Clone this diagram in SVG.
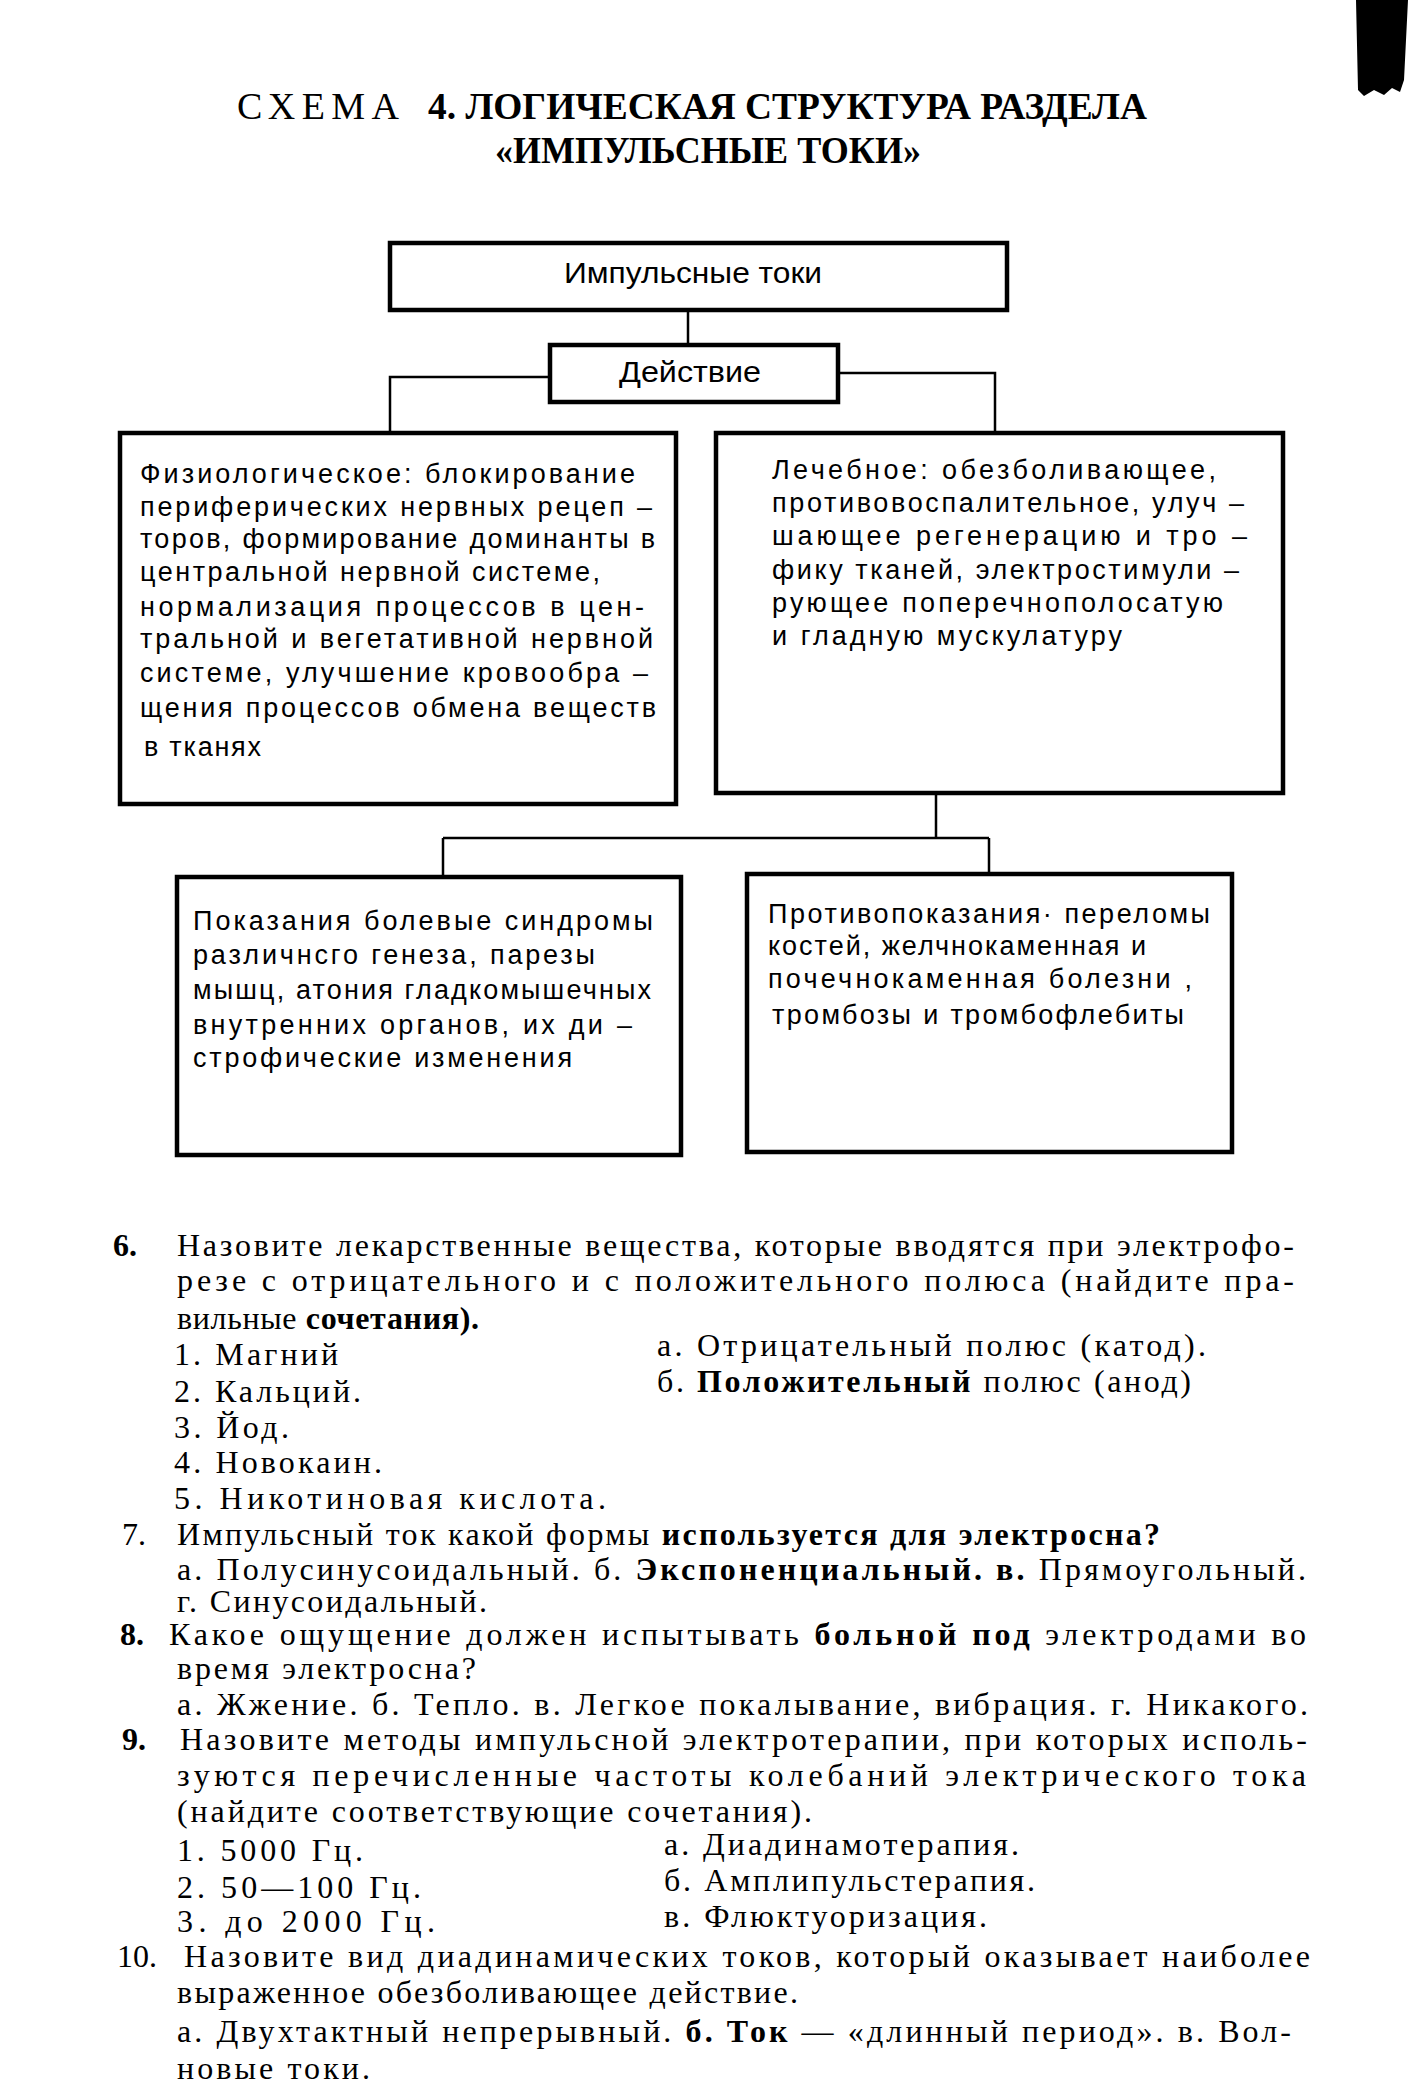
<svg xmlns="http://www.w3.org/2000/svg" width="1420" height="2086" viewBox="0 0 1420 2086">
<style>
.box{fill:#fff;stroke:#000;stroke-width:4.5}
.conn{fill:none;stroke:#000;stroke-width:2.5}
.bt{font-family:"Liberation Sans",Arial,sans-serif;font-size:27px;fill:#000}
.hd{font-family:"Liberation Sans",Arial,sans-serif;font-size:29px;fill:#000}
.q{font-family:"Liberation Serif","Times New Roman",serif;font-size:32px;fill:#000}
.b{font-weight:bold}
.t{font-family:"Liberation Serif","Times New Roman",serif;font-size:38px;fill:#000}
</style>
<rect width="1420" height="2086" fill="#fff"/>
<path d="M1356 0 L1408 0 L1406 40 L1404 80 L1400 92 L1392 88 L1384 95 L1374 90 L1364 96 L1358 90 Z" fill="#000"/>
<g id="title">
<text class="t" x="237" y="119" textLength="162" lengthAdjust="spacing">СХЕМА</text>
<text class="t b" x="428" y="119" textLength="719" lengthAdjust="spacingAndGlyphs">4. ЛОГИЧЕСКАЯ СТРУКТУРА РАЗДЕЛА</text>
<text class="t b" x="495" y="163" textLength="426" lengthAdjust="spacingAndGlyphs">«ИМПУЛЬСНЫЕ ТОКИ»</text>
</g>
<g id="connectors">
<path class="conn" d="M688 310 V344"/>
<path class="conn" d="M550 377 H390 V433"/>
<path class="conn" d="M838 373 H995 V433"/>
<path class="conn" d="M936 793 V838 M443 838 H989 M443 838 V877 M989 838 V874"/>
</g>
<g id="n-impulse">
<rect class="box" x="390" y="243" width="617" height="67"/>
<text class="hd" x="564" y="283" textLength="258" lengthAdjust="spacingAndGlyphs">Импульсные токи</text>
</g>
<g id="n-action">
<rect class="box" x="550" y="345" width="288" height="57"/>
<text class="hd" x="619" y="382" textLength="142" lengthAdjust="spacingAndGlyphs">Действие</text>
</g>
<g id="n-physio">
<rect class="box" x="120" y="433" width="556" height="371"/>
<text class="bt" x="140" y="483" textLength="495" lengthAdjust="spacing">Физиологическое: блокирование</text>
<text class="bt" x="140" y="516" textLength="512" lengthAdjust="spacing">периферических нервных рецеп –</text>
<text class="bt" x="140" y="548" textLength="515" lengthAdjust="spacing">торов, формирование доминанты в</text>
<text class="bt" x="140" y="581" textLength="460" lengthAdjust="spacing">центральной нервной системе,</text>
<text class="bt" x="140" y="616" textLength="504" lengthAdjust="spacing">нормализация процессов в цен-</text>
<text class="bt" x="140" y="648" textLength="513" lengthAdjust="spacing">тральной и вегетативной нервной</text>
<text class="bt" x="140" y="682" textLength="508" lengthAdjust="spacing">системе, улучшение кровообра –</text>
<text class="bt" x="140" y="717" textLength="516" lengthAdjust="spacing">щения процессов обмена веществ</text>
<text class="bt" x="144" y="756" textLength="117" lengthAdjust="spacing">в тканях</text>
</g>
<g id="n-treat">
<rect class="box" x="716" y="433" width="567" height="360"/>
<text class="bt" x="772" y="479" textLength="444" lengthAdjust="spacing">Лечебное: обезболивающее,</text>
<text class="bt" x="772" y="512" textLength="472" lengthAdjust="spacing">противовоспалительное, улуч –</text>
<text class="bt" x="772" y="545" textLength="475" lengthAdjust="spacing">шающее  регенерацию и тро –</text>
<text class="bt" x="772" y="579" textLength="467" lengthAdjust="spacing">фику тканей, электростимули –</text>
<text class="bt" x="772" y="612" textLength="451" lengthAdjust="spacing">рующее поперечнополосатую</text>
<text class="bt" x="772" y="645" textLength="350" lengthAdjust="spacing">и гладную мускулатуру</text>
</g>
<g id="n-indic">
<rect class="box" x="177" y="877" width="504" height="278"/>
<text class="bt" x="193" y="930" textLength="460" lengthAdjust="spacing">Показания  болевые синдромы</text>
<text class="bt" x="193" y="964" textLength="402" lengthAdjust="spacing">различнсго генеза, парезы</text>
<text class="bt" x="193" y="999" textLength="458" lengthAdjust="spacing">мышц, атония гладкомышечных</text>
<text class="bt" x="193" y="1034" textLength="439" lengthAdjust="spacing">внутренних  органов, их ди –</text>
<text class="bt" x="193" y="1067" textLength="379" lengthAdjust="spacing">строфические изменения</text>
</g>
<g id="n-contra">
<rect class="box" x="747" y="874" width="485" height="278"/>
<text class="bt" x="768" y="923" textLength="442" lengthAdjust="spacing">Противопоказания· переломы</text>
<text class="bt" x="768" y="955" textLength="378" lengthAdjust="spacing">костей,  желчнокаменная и</text>
<text class="bt" x="768" y="988" textLength="424" lengthAdjust="spacing">почечнокаменная  болезни ,</text>
<text class="bt" x="772" y="1024" textLength="412" lengthAdjust="spacing">тромбозы и тромбофлебиты</text>
</g>
<g id="questions">
<text class="q b" x="113" y="1256">6.</text>
<text class="q" x="177" y="1256" textLength="1117" lengthAdjust="spacing">Назовите лекарственные вещества, которые вводятся при электрофо-</text>
<text class="q" x="177" y="1291" textLength="1117" lengthAdjust="spacing">резе с отрицательного и с положительного полюса (найдите пра-</text>
<text class="q" x="177" y="1329" textLength="302" lengthAdjust="spacing">вильные <tspan class="b">сочетания).</tspan></text>
<text class="q" x="174" y="1365" textLength="164" lengthAdjust="spacing">1. Магний</text>
<text class="q" x="657" y="1356" textLength="549" lengthAdjust="spacing">а. Отрицательный полюс (катод).</text>
<text class="q" x="174" y="1402" textLength="187" lengthAdjust="spacing">2. Кальций.</text>
<text class="q" x="657" y="1392" textLength="534" lengthAdjust="spacing">б. <tspan class="b">Положительный</tspan> полюс (анод)</text>
<text class="q" x="174" y="1438" textLength="115" lengthAdjust="spacing">3. Йод.</text>
<text class="q" x="174" y="1473" textLength="208" lengthAdjust="spacing">4. Новокаин.</text>
<text class="q" x="174" y="1509" textLength="432" lengthAdjust="spacing">5. Никотиновая   кислота.</text>
<text class="q" x="122" y="1545">7.</text>
<text class="q" x="177" y="1545" textLength="983" lengthAdjust="spacing">Импульсный ток какой формы <tspan class="b">используется для электросна?</tspan></text>
<text class="q" x="177" y="1580" textLength="1129" lengthAdjust="spacing">а. Полусинусоидальный. б. <tspan class="b">Экспоненциальный. в.</tspan> Прямоугольный.</text>
<text class="q" x="177" y="1612" textLength="310" lengthAdjust="spacing">г. Синусоидальный.</text>
<text class="q b" x="120" y="1645">8.</text>
<text class="q" x="169" y="1645" textLength="1137" lengthAdjust="spacing">Какое ощущение должен испытывать <tspan class="b">больной под</tspan> электродами во</text>
<text class="q" x="177" y="1679" textLength="299" lengthAdjust="spacing">время электросна?</text>
<text class="q" x="177" y="1715" textLength="1131" lengthAdjust="spacing">а. Жжение. б. Тепло. в. Легкое покалывание, вибрация. г. Никакого.</text>
<text class="q b" x="122" y="1750">9.</text>
<text class="q" x="180" y="1750" textLength="1127" lengthAdjust="spacing">Назовите методы импульсной электротерапии, при которых исполь-</text>
<text class="q" x="177" y="1786" textLength="1129" lengthAdjust="spacing">зуются перечисленные частоты колебаний электрического тока</text>
<text class="q" x="177" y="1822" textLength="635" lengthAdjust="spacing">(найдите соответствующие сочетания).</text>
<text class="q" x="177" y="1861" textLength="186" lengthAdjust="spacing">1. 5000 Гц.</text>
<text class="q" x="664" y="1855" textLength="355" lengthAdjust="spacing">а. Диадинамотерапия.</text>
<text class="q" x="177" y="1898" textLength="244" lengthAdjust="spacing">2. 50—100 Гц.</text>
<text class="q" x="664" y="1891" textLength="371" lengthAdjust="spacing">б. Амплипульстерапия.</text>
<text class="q" x="177" y="1932" textLength="258" lengthAdjust="spacing">3. до 2000   Гц.</text>
<text class="q" x="664" y="1927" textLength="323" lengthAdjust="spacing">в. Флюктуоризация.</text>
<text class="q" x="117" y="1967">10.</text>
<text class="q" x="184" y="1967" textLength="1126" lengthAdjust="spacing">Назовите вид диадинамических токов, который оказывает наиболее</text>
<text class="q" x="177" y="2003" textLength="621" lengthAdjust="spacing">выраженное обезболивающее действие.</text>
<text class="q" x="177" y="2042" textLength="1114" lengthAdjust="spacing">а. Двухтактный непрерывный. <tspan class="b">б. Ток</tspan> — «длинный период». в. Вол-</text>
<text class="q" x="177" y="2079" textLength="193" lengthAdjust="spacing">новые токи.</text>
</g>
</svg>
